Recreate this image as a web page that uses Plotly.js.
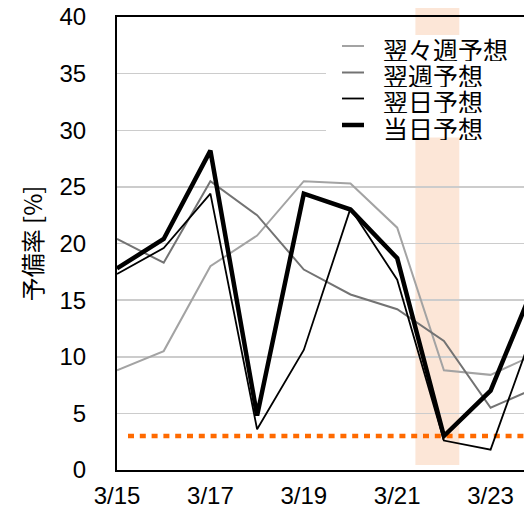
<!DOCTYPE html>
<html>
<head>
<meta charset="utf-8">
<script src="https://cdn.plot.ly/plotly-3.0.1.min.js"></script>
<style>
  html, body { margin: 0; padding: 0; overflow: hidden; background: #fff; }
  #chart { width: 604px; height: 508px; }
</style>
</head>
<body>
<div id="chart"></div>
<script>
// Daily reserve-margin forecasts (%), by forecast horizon
const dates = ['3/15', '3/16', '3/17', '3/18', '3/19', '3/20', '3/21', '3/22', '3/23', '3/24'];
const twoWeeksAhead = [8.8, 10.5, 18.0, 20.7, 25.5, 25.3, 21.4, 8.8, 8.4, 10.3];
const weekAhead     = [20.4, 18.3, 25.5, 22.5, 17.7, 15.5, 14.2, 11.4, 5.5, 7.3];
const dayAhead      = [17.3, 19.6, 24.4, 3.6, 10.6, 23.1, 16.8, 2.6, 1.8, 13.3];
const sameDay       = [17.8, 20.4, 28.2, 4.8, 24.4, 23.0, 18.7, 3.0, 7.0, 17.0];
const seriesNames   = ['翌々週予想', '翌週予想', '翌日予想', '当日予想'];
const yTicks        = [0, 5, 10, 15, 20, 25, 30, 35, 40];
const reserveFloor  = 3;      // minimum required reserve (%)
const highlightDay  = '3/22';

// plot geometry (px)
const W = 604, H = 508;
const M = { l: 117, r: 20, t: 17, b: 38 };
const PW = W - M.l - M.r, PH = H - M.t - M.b;
const px2x = p => (p - M.l) / PW;           // pixel -> paper x
const py2y = p => (H - M.b - p) / PH;       // pixel -> paper y

const xIdx = dates.map((_, i) => i);
const styles = [
  { color: '#a3a3a3', width: 2 },
  { color: '#737373', width: 2 },
  { color: '#000000', width: 1.8 },
  { color: '#000000', width: 4.5 }
];
const values = [twoWeeksAhead, weekAhead, dayAhead, sameDay];

const traces = values.map((v, k) => ({
  type: 'scatter',
  mode: 'lines',
  x: xIdx,
  y: v,
  name: seriesNames[k],
  line: { color: styles[k].color, width: styles[k].width },
  showlegend: false,
  hoverinfo: 'skip'
}));

const hi = dates.indexOf(highlightDay);

// legend: box, line samples and labels
const legendRows = [46, 72.5, 98.5, 125];
const legendShapes = styles.map((s, k) => ({
  type: 'line', layer: 'above',
  xref: 'paper', yref: 'paper',
  x0: px2x(342), x1: px2x(364),
  y0: py2y(legendRows[k]), y1: py2y(legendRows[k]),
  line: { color: s.color, width: s.width }
}));
const legendLabels = seriesNames.map((n, k) => ({
  xref: 'paper', yref: 'paper',
  x: px2x(381), y: py2y(legendRows[k] + 2),
  xanchor: 'left', yanchor: 'middle',
  height: 25, valign: 'middle',
  showarrow: false,
  text: n,
  font: { family: 'Noto Sans CJK JP, sans-serif', size: 25, color: '#000' }
}));

const shapes = [
  // highlighted day band
  {
    type: 'rect', layer: 'below',
    xref: 'paper', yref: 'paper',
    x0: (hi - 0.61) / 10, x1: (hi + 0.33) / 10,
    y0: py2y(465), y1: py2y(8),
    fillcolor: '#fce6d7', line: { width: 0 }
  },
  // minimum reserve line
  {
    type: 'line', layer: 'below',
    xref: 'paper', yref: 'y',
    x0: px2x(128), x1: 1,
    y0: reserveFloor, y1: reserveFloor,
    line: { color: '#ff6a00', width: 4.5, dash: '6px,5.8px' }
  },
  // legend background
  {
    type: 'rect', layer: 'between',
    xref: 'x', yref: 'y',
    x0: (326 - M.l) / PW * 10, x1: 10,
    y0: 29.35, y1: 38.4,
    fillcolor: '#ffffff', line: { width: 0 }
  }
].concat(legendShapes);

const layout = {
  width: W, height: H,
  margin: M,
  paper_bgcolor: '#ffffff',
  plot_bgcolor: 'rgba(0,0,0,0)',
  showlegend: false,
  font: { family: 'Liberation Sans, Noto Sans CJK JP, sans-serif', size: 24, color: '#000' },
  xaxis: {
    range: [0, 10],
    showgrid: false, zeroline: false,
    showline: true, linecolor: '#000', linewidth: 2, mirror: true,
    ticks: '',
    tickvals: xIdx.filter(i => i % 2 === 0),
    ticktext: dates.filter((_, i) => i % 2 === 0),
    tickfont: { size: 24, color: '#000' },
    ticklabelstandoff: 3
  },
  yaxis: {
    range: [0, 40],
    tickvals: yTicks,
    showgrid: true, gridcolor: '#cccccc', gridwidth: 1.5,
    zeroline: false,
    showline: true, linecolor: '#000', linewidth: 2, mirror: true,
    ticks: '',
    tickfont: { size: 24, color: '#000' },
    ticklabelstandoff: 24,
    title: {
      text: '予備率 [%]',
      font: { family: 'Noto Sans CJK JP, Liberation Sans, sans-serif', size: 24, color: '#000' },
      standoff: 10
    }
  },
  shapes: shapes,
  annotations: legendLabels
};

Plotly.newPlot('chart', traces, layout, { staticPlot: true, displayModeBar: false });
</script>
</body>
</html>
